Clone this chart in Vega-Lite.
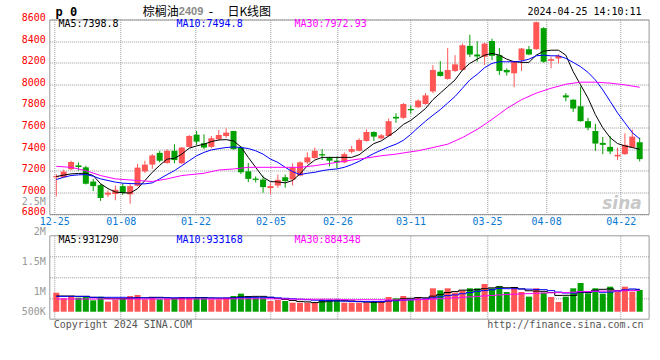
{
"$schema":"https://vega.github.io/schema/vega-lite/v6.json",
"background":"white",
"autosize":{"type":"pad"},
"padding":{"left":20.3,"top":4.5,"right":0,"bottom":0},
"spacing":20.8,
"bounds":"flush",
"config":{"view":{"stroke":"#999999","strokeWidth":1},"axis":{"labelFont":"DejaVu Sans Mono","labelFontSize":10,"ticks":false,"domain":false,"gridColor":"#999999","gridDash":[1,1],"gridWidth":1,"labelOverlap":false,"tickCount":40}},
"datasets":{"k":[
{"i":0,"o":7140,"h":7170,"l":6963,"c":7152,"v":795000,"m5":7147,"m10":7119,"m30":7241,"vm5":655000,"vm10":640000,"vm30":530000},
{"i":1,"o":7140,"h":7210,"l":7135,"c":7192,"v":558000,"m5":7160,"m10":7140,"vm5":655000,"vm10":640000,"vm30":530000},
{"i":2,"o":7214,"h":7293,"l":7205,"c":7281,"v":655000,"m5":7171,"m10":7156,"m30":7232,"vm5":655000,"vm10":640000,"vm30":530000},
{"i":3,"o":7250,"h":7278,"l":7200,"c":7235,"v":586000,"m5":7175,"m10":7162,"vm5":640000,"vm10":640000,"vm30":530000},
{"i":4,"o":7232,"h":7247,"l":7073,"c":7080,"v":655000,"m5":7177,"m10":7165,"m30":7201,"vm5":640000,"vm10":640000,"vm30":530000},
{"i":5,"o":7100,"h":7125,"l":7012,"c":7058,"v":475000,"m5":7156,"m10":7150,"vm5":600000,"vm10":600000,"vm30":530000},
{"i":6,"o":7067,"h":7079,"l":6921,"c":6948,"v":628000,"m5":7080,"m10":7125,"m30":7156,"vm5":590000,"vm10":600000,"vm30":530000},
{"i":7,"o":6979,"h":7018,"l":6957,"c":6997,"v":419000,"m5":7035,"m10":7110,"vm5":560000,"vm10":600000,"vm30":530000},
{"i":8,"o":6985,"h":7064,"l":6927,"c":7024,"v":489000,"m5":7003,"m10":7095,"m30":7125,"vm5":540000,"vm10":600000,"vm30":530000},
{"i":9,"o":7058,"h":7085,"l":6976,"c":6994,"v":558000,"m5":6997,"m10":7085,"vm5":540000,"vm10":600000,"vm30":530000},
{"i":10,"o":6982,"h":7079,"l":6896,"c":7058,"v":655000,"m5":6994,"m10":7082,"vm5":560000,"vm10":580000,"vm30":530000},
{"i":11,"o":7061,"h":7263,"l":7055,"c":7229,"v":697000,"m5":7034,"m10":7079,"m30":7110,"vm5":580000,"vm10":580000,"vm30":530000},
{"i":12,"o":7195,"h":7293,"l":7180,"c":7257,"v":516000,"m5":7110,"m10":7079,"vm5":580000,"vm10":580000,"vm30":530000},
{"i":13,"o":7257,"h":7354,"l":7217,"c":7342,"v":614000,"m5":7186,"m10":7088,"m30":7101,"vm5":600000,"vm10":580000,"vm30":530000},
{"i":14,"o":7366,"h":7385,"l":7278,"c":7293,"v":516000,"m5":7250,"m10":7125,"vm5":600000,"vm10":580000,"vm30":530000},
{"i":15,"o":7272,"h":7400,"l":7265,"c":7385,"v":544000,"m5":7308,"m10":7165,"m30":7125,"vm5":580000,"vm10":580000,"vm30":530000},
{"i":16,"o":7385,"h":7446,"l":7269,"c":7299,"v":558000,"m5":7315,"m10":7201,"vm5":560000,"vm10":580000,"vm30":530000},
{"i":17,"o":7269,"h":7421,"l":7265,"c":7415,"v":614000,"m5":7354,"m10":7247,"m30":7156,"vm5":570000,"vm10":580000,"vm30":530000},
{"i":18,"o":7421,"h":7531,"l":7415,"c":7522,"v":586000,"m5":7409,"m10":7293,"vm5":570000,"vm10":580000,"vm30":530000},
{"i":19,"o":7534,"h":7568,"l":7440,"c":7470,"v":614000,"m5":7430,"m10":7339,"vm5":580000,"vm10":580000,"vm30":530000},
{"i":20,"o":7455,"h":7537,"l":7400,"c":7415,"v":586000,"m5":7446,"m10":7370,"m30":7177,"vm5":590000,"vm10":575000,"vm30":530000},
{"i":21,"o":7421,"h":7522,"l":7410,"c":7501,"v":516000,"m5":7470,"m10":7393,"vm5":570000,"vm10":575000,"vm30":530000},
{"i":22,"o":7492,"h":7577,"l":7480,"c":7531,"v":516000,"m5":7485,"m10":7405,"m30":7207,"vm5":560000,"vm10":575000,"vm30":532000},
{"i":23,"o":7522,"h":7592,"l":7505,"c":7553,"v":586000,"m5":7488,"m10":7415,"vm5":560000,"vm10":575000,"vm30":534000},
{"i":24,"o":7568,"h":7570,"l":7395,"c":7400,"v":655000,"m5":7476,"m10":7421,"m30":7217,"vm5":580000,"vm10":575000,"vm30":536000},
{"i":25,"o":7415,"h":7430,"l":7170,"c":7186,"v":753000,"m5":7421,"m10":7415,"vm5":620000,"vm10":590000,"vm30":538000},
{"i":26,"o":7195,"h":7272,"l":7095,"c":7125,"v":642000,"m5":7324,"m10":7406,"m30":7232,"vm5":630000,"vm10":600000,"vm30":540000},
{"i":27,"o":7128,"h":7147,"l":7092,"c":7116,"v":586000,"m5":7232,"m10":7385,"vm5":640000,"vm10":600000,"vm30":540000},
{"i":28,"o":7119,"h":7156,"l":6997,"c":7049,"v":586000,"m5":7140,"m10":7354,"vm5":640000,"vm10":600000,"vm30":540000},
{"i":29,"o":7040,"h":7085,"l":6982,"c":7058,"v":447000,"m5":7100,"m10":7308,"m30":7232,"vm5":600000,"vm10":600000,"vm30":540000},
{"i":30,"o":7064,"h":7165,"l":7043,"c":7116,"v":489000,"m5":7097,"m10":7278,"vm5":550000,"vm10":580000,"vm30":535000},
{"i":31,"o":7140,"h":7165,"l":7043,"c":7104,"v":447000,"m5":7088,"m10":7232,"m30":7232,"vm5":510000,"vm10":560000,"vm30":530000},
{"i":32,"o":7119,"h":7269,"l":7064,"c":7232,"v":377000,"m5":7110,"m10":7192,"vm5":470000,"vm10":540000,"vm30":525000},
{"i":33,"o":7156,"h":7287,"l":7150,"c":7278,"v":377000,"m5":7171,"m10":7165,"m30":7232,"vm5":430000,"vm10":520000,"vm30":520000},
{"i":34,"o":7278,"h":7370,"l":7263,"c":7324,"v":377000,"m5":7247,"m10":7177,"vm5":410000,"vm10":500000,"vm30":520000},
{"i":35,"o":7318,"h":7415,"l":7310,"c":7385,"v":377000,"m5":7299,"m10":7186,"m30":7247,"vm5":380000,"vm10":480000,"vm30":520000},
{"i":36,"o":7354,"h":7400,"l":7300,"c":7342,"v":516000,"m5":7324,"m10":7201,"vm5":410000,"vm10":470000,"vm30":520000},
{"i":37,"o":7318,"h":7330,"l":7241,"c":7293,"v":516000,"m5":7324,"m10":7211,"vm5":440000,"vm10":460000,"vm30":520000},
{"i":38,"o":7293,"h":7330,"l":7223,"c":7278,"v":516000,"m5":7324,"m10":7217,"m30":7278,"vm5":460000,"vm10":450000,"vm30":520000},
{"i":39,"o":7278,"h":7370,"l":7270,"c":7354,"v":377000,"m5":7324,"m10":7232,"vm5":460000,"vm10":440000,"vm30":505000},
{"i":40,"o":7376,"h":7430,"l":7360,"c":7400,"v":377000,"m5":7324,"m10":7257,"m30":7299,"vm5":450000,"vm10":430000,"vm30":500000},
{"i":41,"o":7385,"h":7500,"l":7380,"c":7485,"v":377000,"m5":7348,"m10":7287,"vm5":430000,"vm10":420000,"vm30":500000},
{"i":42,"o":7476,"h":7583,"l":7470,"c":7559,"v":377000,"m5":7400,"m10":7324,"m30":7318,"vm5":400000,"vm10":420000,"vm30":500000},
{"i":43,"o":7559,"h":7565,"l":7476,"c":7516,"v":447000,"m5":7452,"m10":7360,"vm5":390000,"vm10":420000,"vm30":500000},
{"i":44,"o":7500,"h":7540,"l":7490,"c":7528,"v":447000,"m5":7476,"m10":7391,"m30":7339,"vm5":400000,"vm10":430000,"vm30":500000},
{"i":45,"o":7522,"h":7684,"l":7515,"c":7659,"v":614000,"m5":7522,"m10":7421,"vm5":450000,"vm10":450000,"vm30":490000},
{"i":46,"o":7699,"h":7733,"l":7644,"c":7684,"v":558000,"m5":7568,"m10":7446,"m30":7354,"vm5":480000,"vm10":460000,"vm30":490000},
{"i":47,"o":7690,"h":7827,"l":7680,"c":7818,"v":655000,"m5":7629,"m10":7482,"vm5":540000,"vm10":480000,"vm30":490000},
{"i":48,"o":7772,"h":7803,"l":7730,"c":7760,"v":489000,"m5":7666,"m10":7537,"m30":7376,"vm5":560000,"vm10":500000,"vm30":490000},
{"i":49,"o":7788,"h":7860,"l":7780,"c":7849,"v":614000,"m5":7720,"m10":7600,"m30":7385,"vm5":590000,"vm10":520000,"vm30":500000},
{"i":50,"o":7818,"h":7919,"l":7810,"c":7898,"v":558000,"m5":7776,"m10":7659,"vm5":580000,"vm10":530000,"vm30":510000},
{"i":51,"o":7934,"h":8178,"l":7919,"c":8133,"v":976000,"m5":7858,"m10":7714,"m30":7415,"vm5":650000,"vm10":580000,"vm30":520000},
{"i":52,"o":8117,"h":8215,"l":8072,"c":8078,"v":892000,"m5":7919,"m10":7766,"vm5":710000,"vm10":620000,"vm30":540000},
{"i":53,"o":8050,"h":8337,"l":8043,"c":8133,"v":976000,"m5":7980,"m10":7827,"m30":7446,"vm5":800000,"vm10":670000,"vm30":560000},
{"i":54,"o":8124,"h":8270,"l":8115,"c":8185,"v":795000,"m5":8041,"m10":7888,"vm5":840000,"vm10":700000,"vm30":580000},
{"i":55,"o":8133,"h":8377,"l":8127,"c":8362,"v":892000,"m5":8133,"m10":7964,"m30":7507,"vm5":900000,"vm10":750000,"vm30":600000},
{"i":56,"o":8356,"h":8459,"l":8252,"c":8276,"v":976000,"m5":8194,"m10":8041,"vm5":900000,"vm10":800000,"vm30":620000},
{"i":57,"o":8276,"h":8398,"l":8209,"c":8258,"v":976000,"m5":8233,"m10":8093,"m30":7583,"vm5":920000,"vm10":850000,"vm30":640000},
{"i":58,"o":8255,"h":8386,"l":8179,"c":8377,"v":1156000,"m5":8270,"m10":8154,"vm5":960000,"vm10":880000,"vm30":660000},
{"i":59,"o":8401,"h":8423,"l":8224,"c":8264,"v":976000,"m5":8286,"m10":8194,"m30":7675,"vm5":995000,"vm10":917000,"vm30":680000},
{"i":60,"o":8270,"h":8337,"l":8087,"c":8124,"v":1073000,"m5":8270,"m10":8209,"vm5":1030000,"vm10":970000,"vm30":700000},
{"i":61,"o":8133,"h":8148,"l":8081,"c":8111,"v":822000,"m5":8233,"m10":8209,"m30":7776,"vm5":1000000,"vm10":960000,"vm30":715000},
{"i":62,"o":8102,"h":8215,"l":7974,"c":8209,"v":1031000,"m5":8209,"m10":8209,"vm5":1010000,"vm10":960000,"vm30":730000},
{"i":63,"o":8224,"h":8337,"l":8124,"c":8331,"v":822000,"m5":8203,"m10":8215,"m30":7858,"vm5":950000,"vm10":950000,"vm30":745000},
{"i":64,"o":8325,"h":8355,"l":8270,"c":8276,"v":628000,"m5":8203,"m10":8233,"vm5":875000,"vm10":940000,"vm30":755000},
{"i":65,"o":8325,"h":8580,"l":8320,"c":8575,"v":976000,"m5":8270,"m10":8264,"m30":7919,"vm5":860000,"vm10":930000,"vm30":770000},
{"i":66,"o":8520,"h":8530,"l":8200,"c":8209,"v":795000,"m5":8307,"m10":8270,"vm5":850000,"vm10":920000,"vm30":780000},
{"i":67,"o":8218,"h":8255,"l":8148,"c":8233,"v":614000,"m5":8316,"m10":8264,"m30":7964,"vm5":800000,"vm10":880000,"vm30":790000},
{"i":68,"o":8240,"h":8279,"l":8194,"c":8264,"v":405000,"m5":8316,"m10":8264,"vm5":680000,"vm10":820000,"vm30":795000},
{"i":69,"o":7898,"h":7919,"l":7843,"c":7879,"v":628000,"m5":8270,"m10":8240,"m30":8001,"vm5":684000,"vm10":780000,"vm30":800000},
{"i":70,"o":7858,"h":7860,"l":7745,"c":7776,"v":976000,"m5":8117,"m10":8203,"vm5":680000,"vm10":780000,"vm30":815000},
{"i":71,"o":7797,"h":7980,"l":7655,"c":7659,"v":1198000,"m5":7995,"m10":8163,"m30":8020,"vm5":800000,"vm10":830000,"vm30":835000},
{"i":72,"o":7659,"h":7690,"l":7574,"c":7598,"v":767000,"m5":7873,"m10":8111,"vm5":800000,"vm10":830000,"vm30":845000},
{"i":73,"o":7568,"h":7635,"l":7385,"c":7452,"v":977000,"m5":7720,"m10":8041,"m30":8020,"vm5":900000,"vm10":850000,"vm30":855000},
{"i":74,"o":7458,"h":7513,"l":7354,"c":7440,"v":752000,"m5":7598,"m10":7949,"vm5":934000,"vm10":810000,"vm30":860000},
{"i":75,"o":7421,"h":7522,"l":7354,"c":7379,"v":1044000,"m5":7507,"m10":7843,"m30":8011,"vm5":950000,"vm10":820000,"vm30":865000},
{"i":76,"o":7333,"h":7415,"l":7299,"c":7348,"v":835000,"m5":7452,"m10":7736,"vm5":880000,"vm10":860000,"vm30":870000},
{"i":77,"o":7354,"h":7546,"l":7348,"c":7440,"v":1044000,"m5":7430,"m10":7644,"m30":7995,"vm5":890000,"vm10":910000,"vm30":875000},
{"i":78,"o":7415,"h":7580,"l":7410,"c":7516,"v":835000,"m5":7415,"m10":7553,"vm5":900000,"vm10":950000,"vm30":880000},
{"i":79,"o":7464,"h":7507,"l":7287,"c":7308,"v":906000,"m5":7399,"m10":7495,"m30":7973,"vm5":931290,"vm10":933168,"vm30":884348}
]},
"vconcat":[
{
"width":599.3,"height":194.5,
"data":{"name":"k"},
"layer":[
{"mark":{"type":"rule","strokeWidth":1},
 "encoding":{
  "x":{"field":"i","type":"quantitative","title":null,"scale":{"domain":[-0.27,79.53],"nice":false,"zero":false},
   "axis":{"values":[-0.27,8.73,18.85,29.0,38.08,47.97,58.32,66.33,76.43],"tickCount":40,"grid":true,"labelFlush":false,"labelOverlap":false,"labelColor":"#0a78d2","labelPadding":3,
    "labelExpr":"datum.value < 4 ? '12-25' : datum.value < 14 ? '01-08' : datum.value < 24 ? '01-22' : datum.value < 34 ? '02-05' : datum.value < 43 ? '02-26' : datum.value < 53 ? '03-11' : datum.value < 62 ? '03-25' : datum.value < 71 ? '04-08' : '04-22'"}},
  "y":{"field":"l","type":"quantitative","title":null,"scale":{"domain":[6800,8600],"nice":false,"zero":false},
   "axis":{"values":[6800,7000,7200,7400,7600,7800,8000,8200,8400,8600],"tickCount":40,"format":"d","grid":true,"labelOverlap":false,"labelColor":"#ff0000","labelPadding":4,"labelOffset":-2}},
  "y2":{"field":"h"},
  "color":{"condition":{"test":"datum.c >= datum.o","value":"#ff5555"},"value":"#00a000"}}},
{"mark":{"type":"bar","size":6},
 "encoding":{
  "x":{"field":"i","type":"quantitative","title":null},
  "y":{"field":"o","type":"quantitative","title":null},
  "y2":{"field":"c"},
  "color":{"condition":{"test":"datum.c >= datum.o","value":"#ff5555"},"value":"#00a000"}}},
{"mark":{"type":"line","color":"#000000","strokeWidth":1},
 "encoding":{"x":{"field":"i","type":"quantitative","title":null},"y":{"field":"m5","type":"quantitative","title":null}}},
{"mark":{"type":"line","color":"#0000ff","strokeWidth":1},
 "encoding":{"x":{"field":"i","type":"quantitative","title":null},"y":{"field":"m10","type":"quantitative","title":null}}},
{"transform":[{"filter":"isValid(datum.m30)"}],
 "mark":{"type":"line","color":"#ff00ff","strokeWidth":1},
 "encoding":{"x":{"field":"i","type":"quantitative","title":null},"y":{"field":"m30","type":"quantitative","title":null}}},
{"data":{"values":[{}]},"mark":{"type":"text","align":"left","baseline":"middle","font":"DejaVu Sans Mono","fontSize":10,"color":"#000000"},
 "encoding":{"x":{"datum":0.3},"y":{"datum":8554},"text":{"value":"MA5:7398.8"}}},
{"data":{"values":[{}]},"mark":{"type":"text","align":"left","baseline":"middle","font":"DejaVu Sans Mono","fontSize":10,"color":"#0000ff"},
 "encoding":{"x":{"datum":16.28},"y":{"datum":8554},"text":{"value":"MA10:7494.8"}}},
{"data":{"values":[{}]},"mark":{"type":"text","align":"left","baseline":"middle","font":"DejaVu Sans Mono","fontSize":10,"color":"#ff00ff"},
 "encoding":{"x":{"datum":32.26},"y":{"datum":8554},"text":{"value":"MA30:7972.93"}}},
{"data":{"values":[{}]},"mark":{"type":"text","align":"left","baseline":"middle","font":"DejaVu Sans Mono","fontSize":12,"fontWeight":"bold","color":"#000000"},
 "encoding":{"x":{"datum":-0.1},"y":{"datum":8674},"text":{"value":"p 0"}}},
{"data":{"values":[{}]},"mark":{"type":"text","align":"left","baseline":"middle","font":"Noto Sans CJK SC","fontSize":12,"color":"#000000"},
 "encoding":{"x":{"datum":11.71},"y":{"datum":8674},"text":{"value":"棕榈油"}}},
{"data":{"values":[{}]},"mark":{"type":"text","align":"left","baseline":"middle","font":"Liberation Sans","fontSize":11,"fontWeight":"bold","color":"#888888"},
 "encoding":{"x":{"datum":16.59},"y":{"datum":8674},"text":{"value":"2409"}}},
{"data":{"values":[{}]},"mark":{"type":"text","align":"center","baseline":"middle","font":"DejaVu Sans","fontSize":12,"color":"#000000"},
 "encoding":{"x":{"datum":20.94},"y":{"datum":8674},"text":{"value":"-"}}},
{"data":{"values":[{}]},"mark":{"type":"text","align":"left","baseline":"middle","font":"Noto Sans CJK SC","fontSize":12,"color":"#000000"},
 "encoding":{"x":{"datum":23.17},"y":{"datum":8674},"text":{"value":"日K线图"}}},
{"data":{"values":[{}]},"mark":{"type":"text","align":"right","baseline":"middle","font":"DejaVu Sans Mono","fontSize":10,"color":"#000000"},
 "encoding":{"x":{"datum":79.26},"y":{"datum":8674},"text":{"value":"2024-04-25 14:10:11"}}},
{"data":{"values":[{}]},"mark":{"type":"text","align":"center","baseline":"middle","font":"DejaVu Sans","fontSize":17,"fontStyle":"italic","fontWeight":"bold","color":"#c8c8c8"},
 "encoding":{"x":{"datum":76.6},"y":{"datum":6897},"text":{"value":"sina"}}}
]
},
{
"width":599.3,"height":83.4,
"layer":[
{"data":{"name":"k"},
 "layer":[
 {"mark":{"type":"bar","size":6},
  "encoding":{
   "x":{"field":"i","type":"quantitative","title":null,"scale":{"domain":[-0.27,79.53],"nice":false,"zero":false},
    "axis":{"values":[-0.27,8.73,18.85,29.0,38.08,47.97,58.32,76.43],"tickCount":40,"grid":true,"labels":false}},
   "y":{"field":"v","type":"quantitative","title":null,"scale":{"domain":[-292250,3189700],"nice":false,"zero":false},
    "axis":{"orient":"right","values":[578237,1448725,2319212],"tickCount":40,"grid":true,"labels":false}},
   "color":{"condition":{"test":"datum.c >= datum.o","value":"#ff5555"},"value":"#00a000"}}},
 {"mark":{"type":"line","color":"#000000","strokeWidth":1,"interpolate":"step"},
  "encoding":{"x":{"field":"i","type":"quantitative","title":null},"y":{"field":"vm5","type":"quantitative","title":null}}},
 {"mark":{"type":"line","color":"#0000ff","strokeWidth":1,"interpolate":"step"},
  "encoding":{"x":{"field":"i","type":"quantitative","title":null},"y":{"field":"vm10","type":"quantitative","title":null}}},
 {"mark":{"type":"line","color":"#ff00ff","strokeWidth":1,"interpolate":"step"},
  "encoding":{"x":{"field":"i","type":"quantitative","title":null},"y":{"field":"vm30","type":"quantitative","title":null}}},
 {"data":{"values":[{}]},"mark":{"type":"text","align":"left","baseline":"middle","font":"DejaVu Sans Mono","fontSize":10,"color":"#000000"},
  "encoding":{"x":{"datum":0.3},"y":{"datum":2993000},"text":{"value":"MA5:931290"}}},
 {"data":{"values":[{}]},"mark":{"type":"text","align":"left","baseline":"middle","font":"DejaVu Sans Mono","fontSize":10,"color":"#0000ff"},
  "encoding":{"x":{"datum":16.28},"y":{"datum":2993000},"text":{"value":"MA10:933168"}}},
 {"data":{"values":[{}]},"mark":{"type":"text","align":"left","baseline":"middle","font":"DejaVu Sans Mono","fontSize":10,"color":"#ff00ff"},
  "encoding":{"x":{"datum":32.26},"y":{"datum":2993000},"text":{"value":"MA30:884348"}}},
 {"data":{"values":[{}]},"mark":{"type":"text","align":"left","baseline":"middle","font":"DejaVu Sans Mono","fontSize":10,"color":"#555555"},
  "encoding":{"x":{"datum":-0.36},"y":{"datum":-555000},"text":{"value":"Copyright 2024 SINA.COM"}}},
 {"data":{"values":[{}]},"mark":{"type":"text","align":"right","baseline":"middle","font":"DejaVu Sans Mono","fontSize":10,"color":"#555555"},
  "encoding":{"x":{"datum":79.53},"y":{"datum":-555000},"text":{"value":"http://finance.sina.com.cn"}}}
 ]},
{"data":{"values":[{"lv":500000},{"lv":1000000},{"lv":1500000},{"lv":2000000},{"lv":2500000}]},
 "mark":{"type":"point","opacity":0},
 "encoding":{"y":{"field":"lv","type":"quantitative","title":null,"scale":{"domain":[0,2500000],"range":[116.4,-33.6],"nice":false,"zero":false},
  "axis":{"orient":"left","values":[500000,1000000,1500000,2000000,2500000],"tickCount":40,"grid":false,"labelColor":"#999999","labelPadding":4,"labelOverlap":false,
   "labelOffset":{"condition":{"test":"datum.value == 500000","value":-10},"value":0},
   "labelExpr":"datum.value == 500000 ? '500K' : datum.value == 1000000 ? '1M' : datum.value == 1500000 ? '1.5M' : datum.value == 2000000 ? '2M' : '2.5M'"}}}}
],
"resolve":{"scale":{"y":"independent"},"axis":{"y":"independent"}}
}
]
}
